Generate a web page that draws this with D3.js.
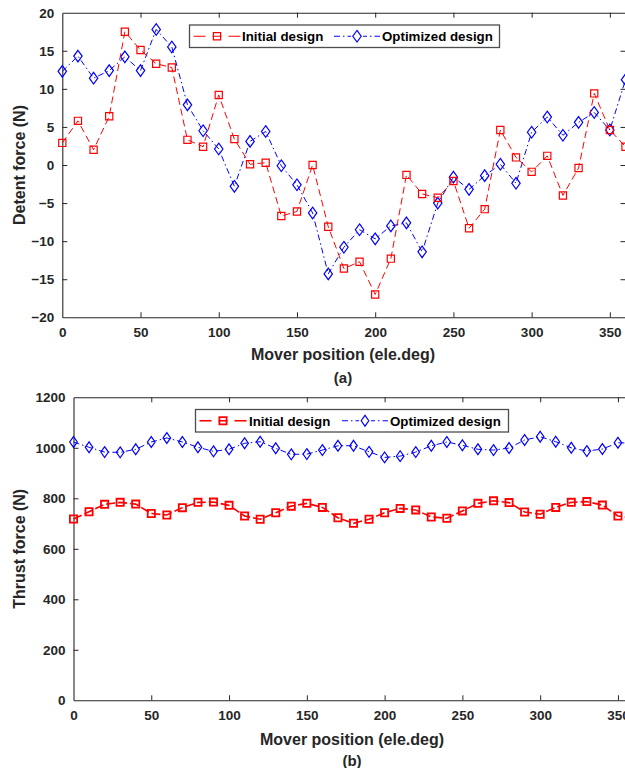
<!DOCTYPE html>
<html>
<head>
<meta charset="utf-8">
<script src="https://cdn.jsdelivr.net/npm/d3@7/dist/d3.min.js"></script>
<style>
  html, body { margin: 0; padding: 0; background: #fff; overflow: hidden; }
  svg { display: block; font-family: "Liberation Sans", Arial, sans-serif; font-weight: bold; }
</style>
</head>
<body>
<svg id="fig" width="625" height="768"></svg>
<script>
// Mover positions (electrical degrees), shared by both panels
const positions = d3.range(0, 361, 10);

// (a) Detent force, N
const detentInitial = [2.9, 5.8, 2.0, 6.4, 17.5, 15.1, 13.3, 12.8, 3.3, 2.4,
  9.2, 3.4, 0.1, 0.3, -6.7, -6.1, 0.0, -8.1, -13.6, -12.7,
  -17.0, -12.3, -1.3, -3.8, -4.3, -2.1, -8.3, -5.8, 4.6, 1.0,
  -0.9, 1.2, -4.0, -0.4, 9.4, 4.6, 2.4];
const detentOptimized = [12.3, 14.3, 11.4, 12.4, 14.2, 12.4, 17.8, 15.5, 7.9, 4.5,
  2.1, -2.8, 3.1, 4.4, -0.1, -2.6, -6.3, -14.3, -10.8, -8.5,
  -9.7, -8.0, -7.6, -11.4, -5.0, -1.6, -3.2, -1.4, 0.1, -2.4,
  4.3, 6.3, 3.9, 5.6, 6.9, 4.6, 11.2];

// (b) Thrust force, N
const thrustInitial = [718, 747, 776, 784, 777, 740, 734, 763, 784, 785,
  772, 730, 717, 743, 769, 780, 764, 723, 701, 717,
  743, 760, 754, 726, 721, 750, 780, 790, 783, 746,
  737, 764, 784, 787, 773, 730, 722];
const thrustOptimized = [1023, 1002, 983, 982, 994, 1023, 1039, 1023, 1002, 986,
  994, 1018, 1024, 998, 974, 975, 991, 1008, 1008, 984,
  962, 967, 983, 1008, 1023, 1010, 994, 991, 999, 1031,
  1044, 1024, 1000, 987, 995, 1020, 1018];

const xTicks = [0, 50, 100, 150, 200, 250, 300, 350];
const detentTicks = [-20, -15, -10, -5, 0, 5, 10, 15, 20];
const thrustTicks = [0, 200, 400, 600, 800, 1000, 1200];
const seriesNames = ["Initial design", "Optimized design"];

const RED = "#ff0000", BLUE = "#0000ff", INK = "#262626";
const svg = d3.select("#fig");
const intFmt = d3.format("d");

function squarePath(s) {
  return `M${-s},${-s}H${s}V${s}H${-s}Z`;
}
function diamondPath(w, h) {
  return `M0,${-h}L${w},0L0,${h}L${-w},0Z`;
}

function panel(cfg) {
  const x = d3.scaleLinear().domain([0, 360]).range([cfg.left, cfg.right]);
  const y = d3.scaleLinear().domain(cfg.yDomain).range([cfg.bottom, cfg.top]);

  const clipId = "clip-" + cfg.id;
  svg.append("clipPath").attr("id", clipId)
    .append("rect")
    .attr("x", cfg.left - 8).attr("y", cfg.top - 8)
    .attr("width", cfg.right - cfg.left + 16).attr("height", cfg.bottom - cfg.top + 16);

  // axes with inward ticks on all four sides
  const tl = 5;
  const g = svg.append("g").attr("class", "axes");
  const bottomAx = g.append("g").attr("transform", `translate(0,${cfg.bottom})`)
    .call(d3.axisBottom(x).tickValues(xTicks).tickFormat(intFmt)
      .tickSizeInner(-tl).tickSizeOuter(0).tickPadding(10));
  const topAx = g.append("g").attr("transform", `translate(0,${cfg.top})`)
    .call(d3.axisTop(x).tickValues(xTicks).tickSizeInner(-tl).tickSizeOuter(0).tickFormat(""));
  const leftAx = g.append("g").attr("transform", `translate(${cfg.left},0)`)
    .call(d3.axisLeft(y).tickValues(cfg.yTicks).tickFormat(intFmt)
      .tickSizeInner(-tl).tickSizeOuter(0).tickPadding(cfg.yPad));
  const rightAx = g.append("g").attr("transform", `translate(${cfg.right},0)`)
    .call(d3.axisRight(y).tickValues(cfg.yTicks).tickSizeInner(-tl).tickSizeOuter(0).tickFormat(""));
  [bottomAx, topAx, leftAx, rightAx].forEach(a => {
    a.select(".domain").attr("stroke", INK).attr("stroke-width", 1.1);
    a.selectAll(".tick line").attr("stroke", INK).attr("stroke-width", 1);
    a.selectAll(".tick text").attr("fill", INK)
      .style("font-size", "13.5px").style("font-weight", "bold")
      .style("font-family", "'Liberation Sans', Arial, sans-serif");
  });
  // no tick marks where they would sit on the box corners
  [topAx, bottomAx].forEach(a => a.selectAll(".tick line").filter(d => d === 0).remove());
  [leftAx, rightAx].forEach(a => a.selectAll(".tick line")
    .filter(d => d === cfg.yDomain[0] || d === cfg.yDomain[1]).remove());

  const plot = svg.append("g").attr("clip-path", `url(#${clipId})`);
  const line = d3.line().x((d, i) => x(positions[i])).y(d => y(d));

  // optimized (blue, dash-dot)
  plot.append("path").datum(cfg.optimized)
    .attr("d", line).attr("fill", "none").attr("stroke", BLUE)
    .attr("stroke-width", cfg.blueWidth).attr("stroke-dasharray", "6,3,1.5,3");
  plot.append("g").selectAll("path").data(cfg.optimized).join("path")
    .attr("transform", (d, i) => `translate(${x(positions[i])},${y(d)})`)
    .attr("d", diamondPath(cfg.dw, cfg.dh))
    .attr("fill", "none").attr("stroke", BLUE).attr("stroke-width", cfg.blueWidth + 0.2);

  // initial (red, dashed)
  plot.append("path").datum(cfg.initial)
    .attr("d", line).attr("fill", "none").attr("stroke", RED)
    .attr("stroke-width", cfg.redWidth).attr("stroke-dasharray", cfg.redDash);
  plot.append("g").selectAll("path").data(cfg.initial).join("path")
    .attr("transform", (d, i) => `translate(${x(positions[i])},${y(d)})`)
    .attr("d", squarePath(cfg.sq))
    .attr("fill", "none").attr("stroke", RED).attr("stroke-width", cfg.redWidth + 0.2);

  // axis titles
  svg.append("text").attr("x", cfg.xTitleX).attr("y", cfg.xTitleY)
    .attr("text-anchor", "middle").attr("fill", INK).style("font-size", "16px")
    .text("Mover position (ele.deg)");
  svg.append("text").attr("x", cfg.xTitleX).attr("y", cfg.capY)
    .attr("text-anchor", "middle").attr("fill", INK).style("font-size", "15px")
    .text(cfg.caption);
  svg.append("text")
    .attr("transform", `translate(${cfg.yTitleX},${(cfg.top + cfg.bottom) / 2}) rotate(-90)`)
    .attr("text-anchor", "middle").attr("fill", INK).style("font-size", "16px")
    .text(cfg.yTitle);

  // legend
  const L = cfg.legend;
  const lg = svg.append("g");
  lg.append("rect").attr("x", L.x).attr("y", L.y).attr("width", L.w).attr("height", L.h)
    .attr("fill", "#fff").attr("stroke", "#4d4d4d").attr("stroke-width", 1.3);
  const cy = L.y + L.h / 2;
  // initial entry: dash, square, dash
  [[L.x + 4, L.x + 16], [L.x + 39, L.x + 51]].forEach(([a, b]) =>
    lg.append("line").attr("x1", a).attr("x2", b).attr("y1", cy).attr("y2", cy)
      .attr("stroke", RED).attr("stroke-width", cfg.redWidth));
  lg.append("line").attr("x1", L.x + 23).attr("x2", L.x + 32).attr("y1", cy).attr("y2", cy)
    .attr("stroke", RED).attr("stroke-width", cfg.redWidth);
  lg.append("path").attr("transform", `translate(${L.x + 27.5},${cy})`).attr("d", squarePath(cfg.sq))
    .attr("fill", "none").attr("stroke", RED).attr("stroke-width", cfg.redWidth + 0.2);
  lg.append("text").attr("x", L.t1).attr("y", cy + 4.8).attr("fill", "#000")
    .style("font-size", "13.3px").text(seriesNames[0]);
  // optimized entry
  lg.append("line").attr("x1", L.l2).attr("x2", L.l2 + 46).attr("y1", cy).attr("y2", cy)
    .attr("stroke", BLUE).attr("stroke-width", cfg.blueWidth).attr("stroke-dasharray", "6,3,1.5,3");
  lg.append("rect").attr("x", L.l2 + 17).attr("y", cy - 7).attr("width", 12).attr("height", 14).attr("fill", "#fff");
  lg.append("path").attr("transform", `translate(${L.l2 + 23},${cy})`).attr("d", diamondPath(cfg.dw, cfg.dh))
    .attr("fill", "none").attr("stroke", BLUE).attr("stroke-width", cfg.blueWidth + 0.2);
  lg.append("text").attr("x", L.t2).attr("y", cy + 4.8).attr("fill", "#000")
    .style("font-size", "13.3px").text(seriesNames[1]);
}

panel({
  id: "a", left: 62.3, right: 625.5, top: 12.7, bottom: 317.3,
  yDomain: [-20, 20], yTicks: detentTicks, yPad: 8,
  initial: detentInitial, optimized: detentOptimized,
  redWidth: 1, blueWidth: 1, redDash: "7,4", sq: 3.6, dw: 4.2, dh: 5.8,
  xTitleX: 343, xTitleY: 360, capY: 383, caption: "(a)",
  yTitleX: 25, yTitle: "Detent force (N)",
  legend: { x: 189.5, y: 25, w: 310, h: 22.5, t1: 242, l2: 334, t2: 382 }
});

panel({
  id: "b", left: 73.5, right: 633.5, top: 397.3, bottom: 700.3,
  yDomain: [0, 1200], yTicks: thrustTicks, yPad: 8,
  initial: thrustInitial, optimized: thrustOptimized,
  redWidth: 1.6, blueWidth: 1, redDash: "9,3", sq: 3.6, dw: 3.8, dh: 5.4,
  xTitleX: 352, xTitleY: 745, capY: 766, caption: "(b)",
  yTitleX: 25, yTitle: "Thrust force (N)",
  legend: { x: 195.5, y: 409.5, w: 313, h: 22.5, t1: 249, l2: 342, t2: 390 }
});
</script>
</body>
</html>
